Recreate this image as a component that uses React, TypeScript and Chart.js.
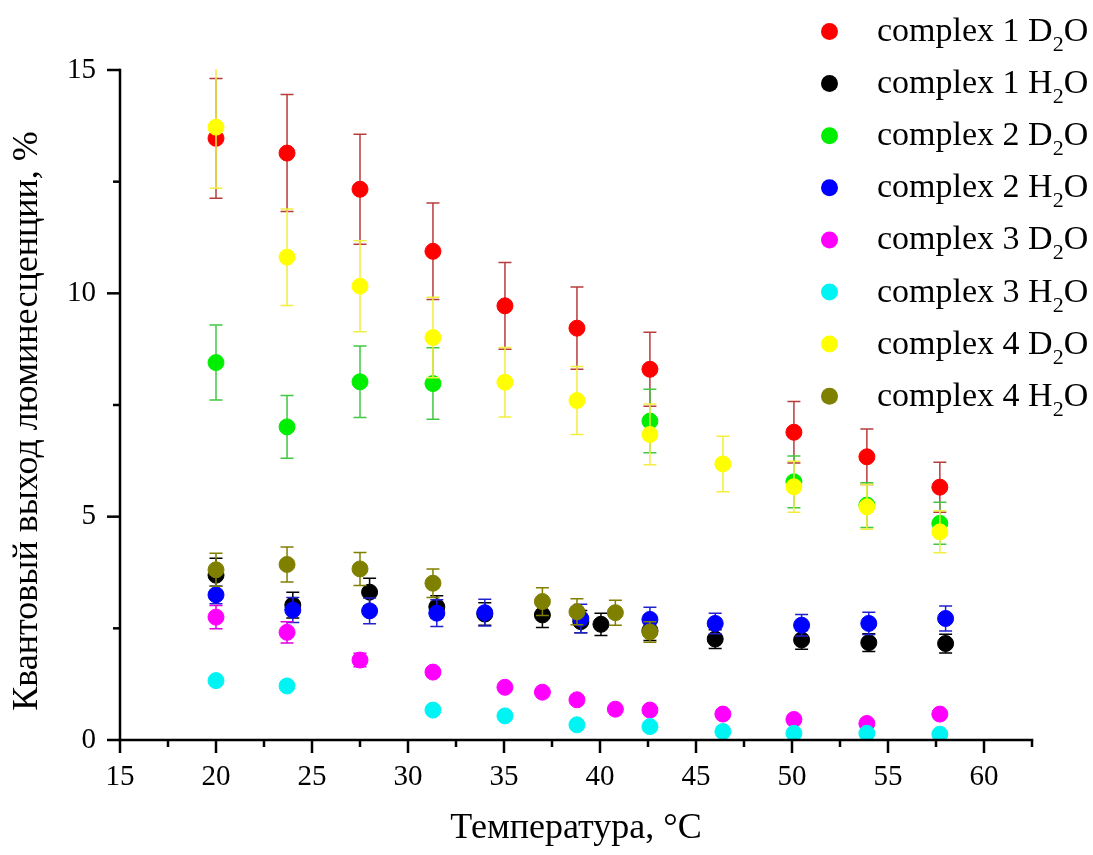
import React, { useEffect, useRef } from 'react';
import { Chart, registerables } from 'chart.js';

Chart.register(...registerables);

// ---- data ----
const c1D2O_T = [20, 23.7, 27.5, 31.3, 35.05, 38.8, 42.6, 50.1, 53.9, 57.7];
const c1D2O_Q = [13.47, 13.14, 12.33, 10.94, 9.72, 9.22, 8.3, 6.89, 6.34, 5.66];
const c1D2O_E = [1.34, 1.31, 1.23, 1.08, 0.97, 0.92, 0.83, 0.69, 0.62, 0.56];

const c1H2O_T = [20, 24.0, 28.0, 31.5, 34.0, 37.0, 39.0, 40.05, 42.6, 46.0, 50.5, 54.0, 58.0];
const c1H2O_Q = [3.69, 3.02, 3.31, 2.98, 2.82, 2.8, 2.65, 2.59, 2.45, 2.26, 2.24, 2.18, 2.16];
const c1H2O_E = [0.38, 0.29, 0.31, 0.25, 0.25, 0.28, 0.25, 0.25, 0.22, 0.21, 0.21, 0.2, 0.21];

const c2D2O_T = [20, 23.7, 27.5, 31.3, 42.6, 50.1, 53.9, 57.7];
const c2D2O_Q = [8.45, 7.01, 8.02, 7.98, 7.14, 5.78, 5.26, 4.85];
const c2D2O_E = [0.84, 0.7, 0.8, 0.8, 0.71, 0.58, 0.5, 0.47];

const c2H2O_T = [20, 24.0, 28.0, 31.5, 34.0, 39.0, 42.6, 46.0, 50.5, 54.0, 58.0];
const c2H2O_Q = [3.25, 2.91, 2.89, 2.84, 2.85, 2.72, 2.7, 2.61, 2.57, 2.61, 2.72];
const c2H2O_E = [0.2, 0.28, 0.29, 0.3, 0.3, 0.32, 0.27, 0.23, 0.24, 0.25, 0.28];

const c3D2O_T = [20, 23.7, 27.5, 31.3, 35.05, 37.0, 38.8, 40.8, 42.6, 46.4, 50.1, 53.9, 57.7];
const c3D2O_Q = [2.75, 2.41, 1.79, 1.52, 1.18, 1.07, 0.9, 0.69, 0.67, 0.58, 0.46, 0.37, 0.58];
const c3D2O_E = [0.26, 0.24, 0.15, 0.1, 0, 0, 0, 0, 0, 0, 0, 0, 0];

const c3H2O_T = [20, 23.7, 31.3, 35.05, 38.8, 42.6, 46.4, 50.1, 53.9, 57.7];
const c3H2O_Q = [1.33, 1.21, 0.67, 0.54, 0.34, 0.3, 0.19, 0.15, 0.15, 0.13];
const c3H2O_E = [0, 0, 0, 0, 0, 0, 0, 0, 0, 0];

const c4D2O_T = [20, 23.7, 27.5, 31.3, 35.05, 38.8, 42.6, 46.4, 50.1, 53.9, 57.7];
const c4D2O_Q = [13.72, 10.81, 10.16, 9.01, 8.01, 7.6, 6.84, 6.18, 5.67, 5.22, 4.66];
const c4D2O_E = [1.37, 1.08, 1.02, 0.9, 0.78, 0.76, 0.68, 0.62, 0.57, 0.5, 0.47];

const c4H2O_T = [20, 23.7, 27.5, 31.3, 37.0, 38.8, 40.8, 42.6];
const c4H2O_Q = [3.81, 3.93, 3.83, 3.51, 3.1, 2.87, 2.85, 2.42];
const c4H2O_E = [0.37, 0.39, 0.37, 0.32, 0.31, 0.29, 0.28, 0.23];

const seriesLabels = [
  'complex 1 D₂O',
  'complex 1 H₂O',
  'complex 2 D₂O',
  'complex 2 H₂O',
  'complex 3 D₂O',
  'complex 3 H₂O',
  'complex 4 D₂O',
  'complex 4 H₂O',
];
const seriesT = [c1D2O_T, c1H2O_T, c2D2O_T, c2H2O_T, c3D2O_T, c3H2O_T, c4D2O_T, c4H2O_T];
const seriesQ = [c1D2O_Q, c1H2O_Q, c2D2O_Q, c2H2O_Q, c3D2O_Q, c3H2O_Q, c4D2O_Q, c4H2O_Q];
const seriesE = [c1D2O_E, c1H2O_E, c2D2O_E, c2H2O_E, c3D2O_E, c3H2O_E, c4D2O_E, c4H2O_E];

const pointColors = ['#ff0000', '#000000', '#00ee00', '#0000ff', '#ff00ff', '#00f4f4', '#ffff00', '#808000'];
const errColors = ['#b83c3c', '#000000', '#40c840', '#2020d0', '#e000e0', '#00e0e0', '#f2ee40', '#808000'];

const xMin = 15;
const xMax = 62.5;
const xMajorStep = 5;
const xMinorStep = 2.5;
const yMin = 0;
const yMax = 15;
const yMajorStep = 5;
const yMinorStep = 2.5;

const xTitle = 'Температура, °C';
const yTitle = 'Квантовый выход люминесценции, %';

const FONT = "'Liberation Serif', 'Times New Roman', serif";

// ---- plugins ----
const errorBarPlugin = {
  id: 'errorBars',
  beforeDatasetDraw(chart: any, args: any) {
    const ds = chart.data.datasets[args.index];
    const errs: number[] = ds.errors || [];
    const xs = chart.scales.x;
    const ys = chart.scales.y;
    const ctx = chart.ctx;
    const area = chart.chartArea;
    ctx.save();
    ctx.beginPath();
    ctx.rect(area.left, area.top - 1, area.right - area.left, area.bottom - area.top + 1);
    ctx.clip();
    ctx.strokeStyle = ds.errColor;
    ctx.lineWidth = 1.5;
    ds.data.forEach((p: any, i: number) => {
      const e = errs[i];
      if (!e) return;
      const px = xs.getPixelForValue(p.x);
      const top = ys.getPixelForValue(p.y + e);
      const bot = ys.getPixelForValue(p.y - e);
      const cap = 6.5;
      ctx.beginPath();
      ctx.moveTo(px, top);
      ctx.lineTo(px, bot);
      ctx.moveTo(px - cap, top);
      ctx.lineTo(px + cap, top);
      ctx.moveTo(px - cap, bot);
      ctx.lineTo(px + cap, bot);
      ctx.stroke();
    });
    ctx.restore();
  },
};

const axesPlugin = {
  id: 'originAxes',
  afterDraw(chart: any) {
    const ctx = chart.ctx;
    const xs = chart.scales.x;
    const ys = chart.scales.y;
    const area = chart.chartArea;
    ctx.save();
    ctx.strokeStyle = '#000';
    ctx.lineWidth = 2.5;
    ctx.lineCap = 'square';
    ctx.beginPath();
    ctx.moveTo(area.left, area.bottom);
    ctx.lineTo(area.right, area.bottom);
    ctx.moveTo(area.left, area.bottom);
    ctx.lineTo(area.left, area.top);
    ctx.stroke();
    ctx.lineCap = 'butt';
    // x ticks
    for (let v = xMin; v <= xMax + 1e-9; v += xMinorStep) {
      const major = Math.abs(v / xMajorStep - Math.round(v / xMajorStep)) < 1e-6;
      const px = xs.getPixelForValue(v);
      ctx.beginPath();
      ctx.moveTo(px, area.bottom);
      ctx.lineTo(px, area.bottom + (major ? 13 : 7));
      ctx.stroke();
    }
    // y ticks
    for (let v = yMin; v <= yMax + 1e-9; v += yMinorStep) {
      const major = Math.abs(v / yMajorStep - Math.round(v / yMajorStep)) < 1e-6;
      const py = ys.getPixelForValue(v);
      ctx.beginPath();
      ctx.moveTo(area.left, py);
      ctx.lineTo(area.left - (major ? 13 : 7), py);
      ctx.stroke();
    }
    // y axis title
    ctx.save();
    ctx.translate(28, (area.top + area.bottom) / 2 + 16);
    ctx.rotate(-Math.PI / 2);
    ctx.fillStyle = '#000';
    ctx.font = `36px ${FONT}`;
    ctx.textAlign = 'center';
    ctx.textBaseline = 'middle';
    ctx.fillText(yTitle, 0, 0);
    ctx.restore();
    ctx.restore();
  },
};

const legendPlugin = {
  id: 'originLegend',
  afterDraw(chart: any) {
    const ctx = chart.ctx;
    ctx.save();
    chart.data.datasets.forEach((ds: any, i: number) => {
      const cy = 31.5 + i * 52.1;
      ctx.beginPath();
      ctx.arc(829.5, cy, 8.5, 0, Math.PI * 2);
      ctx.fillStyle = ds.backgroundColor;
      ctx.fill();
      const label: string = ds.label;
      const parts = label.split('₂');
      const base = cy + 9.5;
      let x = 877;
      ctx.fillStyle = '#000';
      ctx.textBaseline = 'alphabetic';
      ctx.textAlign = 'left';
      ctx.font = `34px ${FONT}`;
      ctx.fillText(parts[0], x, base);
      x += ctx.measureText(parts[0]).width;
      if (parts.length > 1) {
        ctx.font = `22px ${FONT}`;
        ctx.fillText('2', x, base + 10);
        x += ctx.measureText('2').width;
        ctx.font = `34px ${FONT}`;
        ctx.fillText(parts[1], x, base);
      }
    });
    ctx.restore();
  },
};

export default function App() {
  const canvasRef = useRef<HTMLCanvasElement | null>(null);

  useEffect(() => {
    const canvas = canvasRef.current;
    if (!canvas) return;
    const datasets = seriesLabels.map((label, i) => ({
      label,
      data: seriesT[i].map((t, j) => ({ x: t, y: seriesQ[i][j] })),
      errors: seriesE[i],
      errColor: errColors[i],
      backgroundColor: pointColors[i],
      borderColor: pointColors[i],
      pointBackgroundColor: pointColors[i],
      pointBorderColor: pointColors[i],
      pointRadius: 8,
      pointBorderWidth: 1,
      showLine: false,
      order: -i,
    }));

    const chart = new Chart(canvas, {
      type: 'scatter',
      data: { datasets } as any,
      options: {
        responsive: false,
        animation: false,
        layout: { padding: { left: 0, right: 61, top: 70, bottom: 0 } },
        plugins: {
          legend: { display: false },
          tooltip: { enabled: false },
        },
        scales: {
          x: {
            type: 'linear',
            min: xMin,
            max: xMax,
            grid: { display: false, drawTicks: false },
            border: { display: false },
            ticks: {
              stepSize: xMajorStep,
              includeBounds: false,
              autoSkip: false,
              maxRotation: 0,
              padding: 20,
              color: '#000',
              font: { family: FONT, size: 29 },
            },
            title: {
              display: true,
              text: xTitle,
              color: '#000',
              font: { family: FONT, size: 36 },
              padding: { top: 0, bottom: 5 },
            },
            afterFit: (scale: any) => {
              scale.height = 115;
            },
          },
          y: {
            type: 'linear',
            min: yMin,
            max: yMax,
            grid: { display: false, drawTicks: false },
            border: { display: false },
            ticks: {
              stepSize: yMajorStep,
              padding: 24,
              color: '#000',
              font: { family: FONT, size: 29 },
            },
            title: { display: false },
            afterFit: (scale: any) => {
              scale.width = 120;
            },
          },
        },
      } as any,
      plugins: [errorBarPlugin, axesPlugin, legendPlugin],
    });
    return () => chart.destroy();
  }, []);

  return (
    <div style={{ position: 'absolute', left: 0, top: 0, width: 1093, height: 855, background: '#fff' }}>
      <canvas ref={canvasRef} width={1093} height={855} style={{ display: 'block' }} />
    </div>
  );
}
